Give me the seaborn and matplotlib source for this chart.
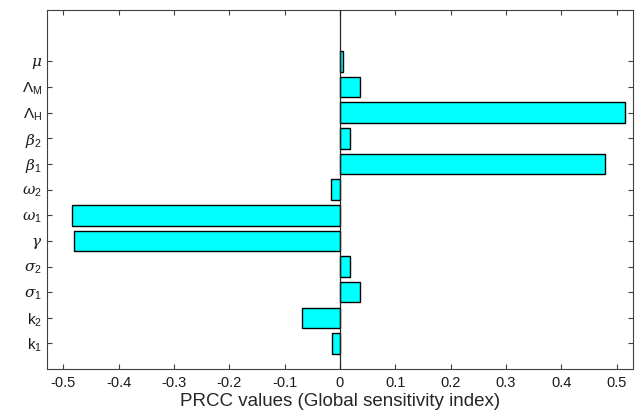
import matplotlib
matplotlib.use("Agg")
import matplotlib.pyplot as plt
import seaborn as sns
import pandas as pd

params = [r'$\mu$', r'$\Lambda_{\mathrm{M}}$', r'$\Lambda_{\mathrm{H}}$', r'$\beta_{\mathrm{2}}$',
          r'$\beta_{\mathrm{1}}$', r'$\omega_{\mathrm{2}}$', r'$\omega_{\mathrm{1}}$', r'$\gamma$',
          r'$\sigma_{\mathrm{2}}$', r'$\sigma_{\mathrm{1}}$', r'$\mathrm{k}_{\mathrm{2}}$', r'$\mathrm{k}_{\mathrm{1}}$']
prcc = [0.005, 0.037, 0.515, 0.018, 0.479, -0.017, -0.485, -0.480, 0.018, 0.036, -0.068, -0.014]
xticks = [-0.5, -0.4, -0.3, -0.2, -0.1, 0, 0.1, 0.2, 0.3, 0.4, 0.5]
xticklabels = ['-0.5', '-0.4', '-0.3', '-0.2', '-0.1', '0', '0.1', '0.2', '0.3', '0.4', '0.5']

sns.set_style("white")
plt.rcParams['font.family'] = ['Liberation Sans', 'DejaVu Sans']
plt.rcParams['mathtext.fontset'] = 'custom'
plt.rcParams['mathtext.rm'] = 'Liberation Sans'
plt.rcParams['mathtext.it'] = 'DejaVu Serif:italic'
plt.rcParams['mathtext.sf'] = 'Liberation Sans'

df = pd.DataFrame({'param': params, 'prcc': prcc})

fig = plt.figure(figsize=(6.37, 4.19), dpi=100)
ax = fig.add_axes([0.0733, 0.119, 0.9207, 0.857])
sns.barplot(data=df, x='prcc', y='param', order=params, orient='h', color='#00FFFF',
            saturation=1, width=0.8, edgecolor='black', linewidth=1.0, ax=ax)
ax.axvline(0, color='#262626', linewidth=0.9, zorder=5)
ax.set_xlim(-0.53, 0.53)
ax.set_ylim(12, -2)
ax.set_xticks(xticks)
ax.set_xticklabels(xticklabels)
ax.set_ylabel('')
ax.set_xlabel('PRCC values (Global sensitivity index)', fontsize=13.5, labelpad=2)
ax.tick_params(axis='x', labelsize=10.5, direction='in', top=True, bottom=True, length=3.5,
               color='#404040', width=0.8, pad=5, labelcolor='#1a1a1a')
ax.tick_params(axis='y', labelsize=11, direction='in', left=True, right=True, length=3.5,
               color='#404040', width=0.8, labelcolor='#1a1a1a')
for s in ax.spines.values():
    s.set_visible(True)
    s.set_color('#404040')
    s.set_linewidth(0.8)

fig.savefig('out.png', dpi=100)
